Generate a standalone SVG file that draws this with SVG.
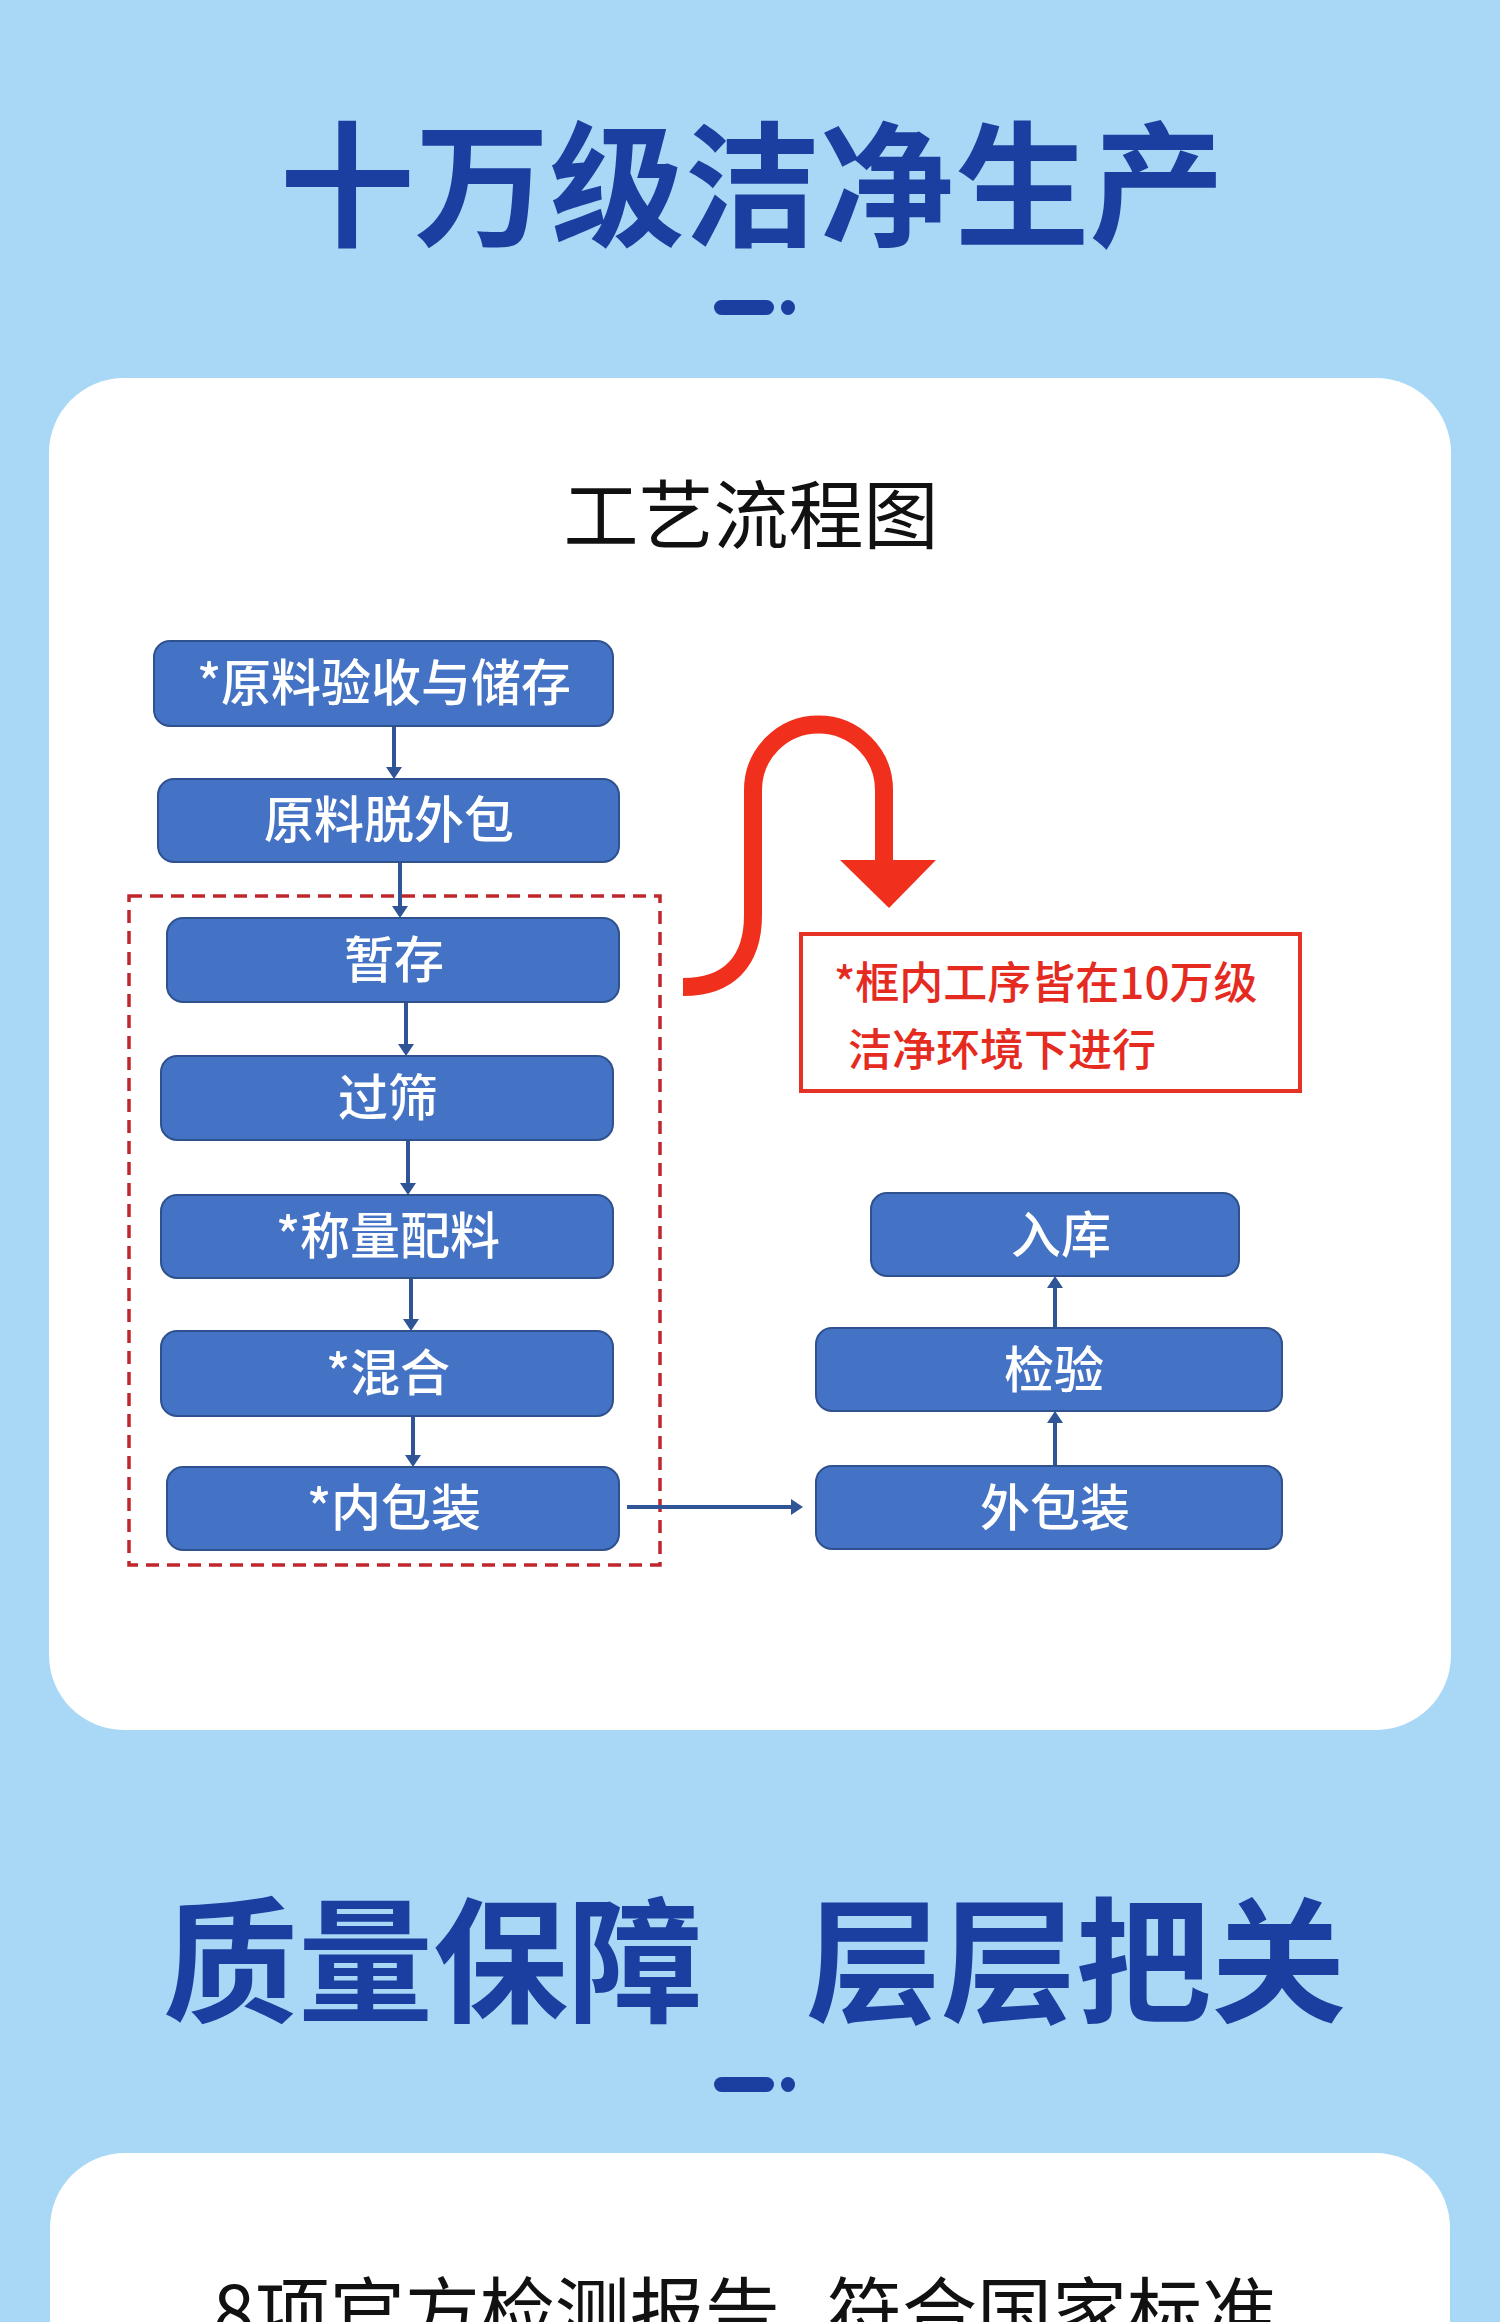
<svg xmlns="http://www.w3.org/2000/svg" width="1500" height="2322" viewBox="0 0 1500 2322">
<defs>
<style>
.bg{fill:#a8d8f5}
.card{fill:#ffffff}
.title{font-family:"Noto Sans CJK SC","Noto Sans",sans-serif;font-size:135px;font-weight:700;fill:#1b3fa0;text-anchor:middle}
.dash{fill:#1b3fa0}
.sub{font-family:"Noto Sans CJK SC","Noto Sans",sans-serif;font-size:75px;font-weight:400;fill:#111111}
.box{fill:#4472c4;stroke:#2f528f;stroke-width:2}
.lbl{font-family:"Noto Sans CJK SC","Noto Sans",sans-serif;font-size:50px;font-weight:500;fill:#ffffff;text-anchor:middle}
.conn{stroke:#2f5597;stroke-width:4;fill:none}
.red{font-family:"Noto Sans CJK SC","Noto Sans",sans-serif;font-size:44px;font-weight:500;fill:#e52b1f}
</style>
<marker id="ah" viewBox="0 0 12 16" refX="0" refY="8" markerWidth="12" markerHeight="16" markerUnits="userSpaceOnUse" orient="auto">
<path d="M0 0 L12 8 L0 16 z" fill="#2f5597"/>
</marker>
</defs>
<rect class="bg" x="0" y="0" width="1500" height="2322"/>

<g id="header1">
<text class="title" x="752" y="236">十万级洁净生产</text>
<rect class="dash" x="714" y="300" width="60" height="15" rx="7.5"/>
<ellipse class="dash" cx="788" cy="307.5" rx="7" ry="7.5"/>
</g>

<rect class="card" x="49" y="378" width="1402" height="1352" rx="75"/>
<text class="sub" x="751" y="543" text-anchor="middle">工艺流程图</text>

<g id="cleanzone">
<rect x="129" y="896" width="531" height="669" fill="none" stroke="#c0272d" stroke-width="3.5" stroke-dasharray="13 8"/>
</g>

<g id="connectors">
<line class="conn" x1="394" y1="726" x2="394" y2="767" marker-end="url(#ah)"/>
<line class="conn" x1="400" y1="862" x2="400" y2="906" marker-end="url(#ah)"/>
<line class="conn" x1="406" y1="1002" x2="406" y2="1044" marker-end="url(#ah)"/>
<line class="conn" x1="408" y1="1140" x2="408" y2="1183" marker-end="url(#ah)"/>
<line class="conn" x1="411" y1="1278" x2="411" y2="1319" marker-end="url(#ah)"/>
<line class="conn" x1="413" y1="1416" x2="413" y2="1455" marker-end="url(#ah)"/>
<line class="conn" x1="627" y1="1507" x2="791" y2="1507" stroke-width="3.5" marker-end="url(#ah)"/>
<line class="conn" x1="1055" y1="1466" x2="1055" y2="1423" stroke-width="5" marker-end="url(#ah)"/>
<line class="conn" x1="1055" y1="1328" x2="1055" y2="1288" stroke-width="5" marker-end="url(#ah)"/>
<path d="M683 987 C728 987 753 962 753 915 L753 790 A65.5 65.5 0 0 1 884 790 L884 864" fill="none" stroke="#f0301c" stroke-width="18"/>
<polygon points="840,860 936,860 889,908" fill="#f0301c"/>
</g>

<g id="n1"><rect class="box" x="154" y="641" width="459" height="85" rx="16"/><text class="lbl" x="384" y="701">*原料验收与储存</text></g>
<g id="n2"><rect class="box" x="158" y="779" width="461" height="83" rx="16"/><text class="lbl" x="389" y="838">原料脱外包</text></g>
<g id="n3"><rect class="box" x="167" y="918" width="452" height="84" rx="16"/><text class="lbl" x="394" y="978">暂存</text></g>
<g id="n4"><rect class="box" x="161" y="1056" width="452" height="84" rx="16"/><text class="lbl" x="388" y="1116">过筛</text></g>
<g id="n5"><rect class="box" x="161" y="1195" width="452" height="83" rx="16"/><text class="lbl" x="388" y="1254">*称量配料</text></g>
<g id="n6"><rect class="box" x="161" y="1331" width="452" height="85" rx="16"/><text class="lbl" x="388" y="1391">*混合</text></g>
<g id="n7"><rect class="box" x="167" y="1467" width="452" height="83" rx="16"/><text class="lbl" x="394" y="1526">*内包装</text></g>

<g id="n8"><rect class="box" x="871" y="1193" width="368" height="83" rx="16"/><text class="lbl" x="1061" y="1253">入库</text></g>
<g id="n9"><rect class="box" x="816" y="1328" width="466" height="83" rx="16"/><text class="lbl" x="1054" y="1388">检验</text></g>
<g id="n10"><rect class="box" x="816" y="1466" width="466" height="83" rx="16"/><text class="lbl" x="1055" y="1526">外包装</text></g>

<g id="note">
<rect x="801" y="934" width="499" height="157" fill="none" stroke="#e53224" stroke-width="4"/>
<text class="red" x="834" y="999">*框内工序皆在10万级</text>
<text class="red" x="848" y="1066">洁净环境下进行</text>
</g>

<g id="header2">
<text class="title" y="2012"><tspan x="433">质量保障</tspan><tspan x="1076">层层把关</tspan></text>
<rect class="dash" x="714" y="2077" width="60" height="15" rx="7.5"/>
<ellipse class="dash" cx="788" cy="2084.5" rx="7" ry="7.5"/>
</g>

<rect class="card" x="50" y="2153" width="1400" height="300" rx="75"/>
<text class="sub" y="2340"><tspan x="213">8项官方检测报告</tspan><tspan x="827">符合国家标准</tspan></text>
</svg>
